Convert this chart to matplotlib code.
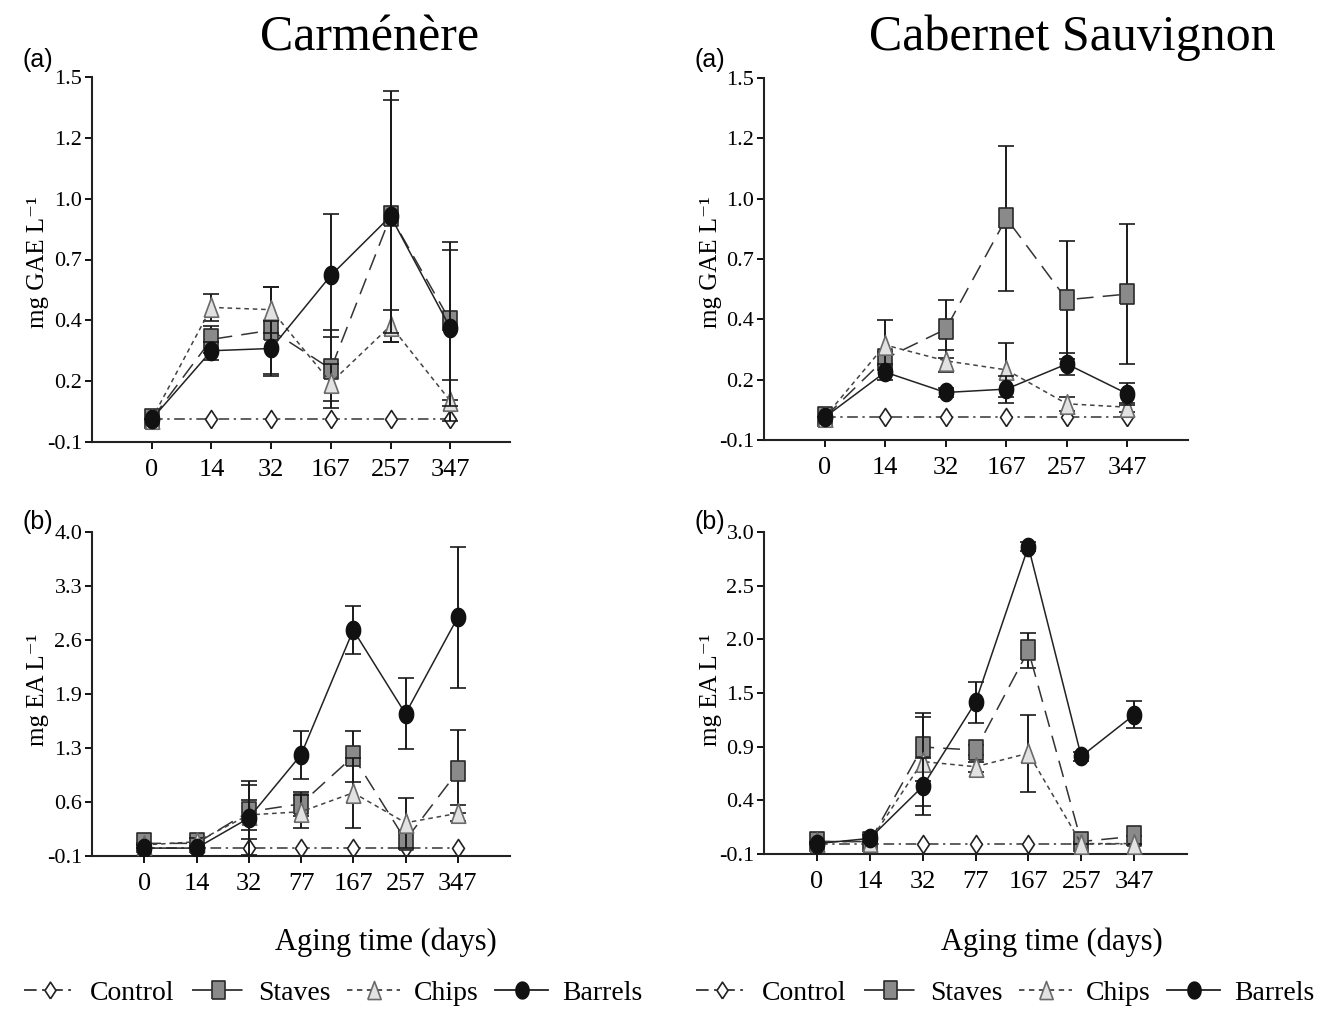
import numpy as np
import matplotlib
matplotlib.use("Agg")
import matplotlib.pyplot as plt
from matplotlib.lines import Line2D

plt.rcParams["font.family"] = ["Liberation Serif", "DejaVu Serif"]
plt.rcParams["mathtext.fontset"] = "stix"

# ---- data -------------------------------------------------------------
days_gae = ["0", "14", "32", "167", "257", "347"]
days_ea = ["0", "14", "32", "77", "167", "257", "347"]

# (a) total phenolics-like index, mg GAE L-1
carm_gae_control = [0.0, 0.0, 0.0, 0.0, 0.0, 0.0]
carm_gae_staves = [0.0, 0.35, 0.39, 0.22, 0.89, 0.43]
carm_gae_staves_err = [0.0, 0.06, 0.19, 0.17, 0.55, 0.345]
carm_gae_chips = [0.0, 0.49, 0.48, 0.16, 0.41, 0.08]
carm_gae_chips_err = [0.0, 0.06, 0.10, 0.08, 0.07, 0.09]
carm_gae_barrels = [0.0, 0.30, 0.31, 0.63, 0.89, 0.40]
carm_gae_barrels_err = [0.0, 0.04, 0.12, 0.27, 0.51, 0.34]

cab_gae_control = [0.0, 0.0, 0.0, 0.0, 0.0, 0.0]
cab_gae_staves = [0.0, 0.26, 0.39, 0.88, 0.52, 0.545]
cab_gae_staves_err = [0.0, 0.03, 0.127, 0.32, 0.26, 0.31]
cab_gae_chips = [0.0, 0.32, 0.25, 0.21, 0.06, 0.045]
cab_gae_chips_err = [0.0, 0.11, 0.05, 0.12, 0.03, 0.02]
cab_gae_barrels = [0.0, 0.20, 0.11, 0.125, 0.236, 0.104]
cab_gae_barrels_err = [0.0, 0.035, 0.02, 0.06, 0.05, 0.05]

# (b) ellagic acid, mg EA L-1
carm_ea_control = [0.0, 0.0, 0.0, 0.0, 0.0, 0.0, 0.0]
carm_ea_staves = [0.06, 0.06, 0.46, 0.56, 1.16, 0.10, 0.97]
carm_ea_staves_err = [0.0, 0.0, 0.34, 0.15, 0.32, 0.10, 0.53]
carm_ea_chips = [0.04, 0.08, 0.42, 0.46, 0.70, 0.32, 0.44]
carm_ea_chips_err = [0.0, 0.05, 0.19, 0.21, 0.44, 0.32, 0.10]
carm_ea_barrels = [0.0, 0.0, 0.38, 1.18, 2.76, 1.70, 2.92]
carm_ea_barrels_err = [0.0, 0.0, 0.47, 0.30, 0.30, 0.45, 0.89]

cab_ea_control = [0.0, 0.0, 0.0, 0.0, 0.0, 0.0, 0.0]
cab_ea_staves = [0.02, 0.02, 0.93, 0.90, 1.86, 0.02, 0.07]
cab_ea_staves_err = [0.0, 0.0, 0.33, 0.05, 0.17, 0.0, 0.0]
cab_ea_chips = [0.02, 0.02, 0.79, 0.74, 0.87, 0.0, 0.0]
cab_ea_chips_err = [0.0, 0.0, 0.43, 0.05, 0.37, 0.0, 0.0]
cab_ea_barrels = [0.0, 0.05, 0.55, 1.36, 2.86, 0.84, 1.24]
cab_ea_barrels_err = [0.0, 0.03, 0.27, 0.20, 0.04, 0.04, 0.13]

yticks_gae = ["-0.1", "0.2", "0.4", "0.7", "1.0", "1.2", "1.5"]
yticks_carm_ea = ["-0.1", "0.6", "1.3", "1.9", "2.6", "3.3", "4.0"]
yticks_cab_ea = ["-0.1", "0.4", "0.9", "1.5", "2.0", "2.5", "3.0"]

series_labels = ["Control", "Staves", "Chips", "Barrels"]

# ---- styles -----------------------------------------------------------
t = np.linspace(0, 2 * np.pi, 40)
m_ellipse = list(zip(0.39 * np.cos(t), 0.5 * np.sin(t)))
m_rect = [(-0.36, -0.5), (0.36, -0.5), (0.36, 0.5), (-0.36, 0.5), (-0.36, -0.5)]
m_diamond = [(0, -0.5), (0.33, 0), (0, 0.5), (-0.33, 0), (0, -0.5)]
m_tri = [(-0.37, -0.5), (0.37, -0.5), (0, 0.5), (-0.37, -0.5)]

styles = {
    "Control": dict(marker=m_diamond, ms=13, mfc="white", mec="#222222",
                    ls=(0, (7, 3, 1.5, 3)), color="#333333", z=2),
    "Staves": dict(marker=m_rect, ms=14, mfc="#8a8a8a", mec="#2a2a2a",
                   ls=(0, (11, 6)), color="#333333", z=3),
    "Chips": dict(marker=m_tri, ms=14, mfc="#e2e2e2", mec="#6a6a6a",
                  ls=(0, (3, 2.5)), color="#444444", z=4),
    "Barrels": dict(marker=m_ellipse, ms=13, mfc="#111111", mec="#111111",
                    ls="-", color="#222222", z=5),
}

fig = plt.figure(figsize=(13.31, 10.11), dpi=100)
W, H = 1331.0, 1011.0


def px_axes(x0, y0, x1, y1):
    return fig.add_axes([x0 / W, 1 - y1 / H, (x1 - x0) / W, (y1 - y0) / H])


def draw_panel(ax, cats, ylim, ylabels, data):
    x = np.arange(len(cats))
    for name in series_labels:
        vals, err = data[name]
        s = styles[name]
        ax.errorbar(x, vals, yerr=err, marker=s["marker"], ms=s["ms"],
                    mfc=s["mfc"], mec=s["mec"], mew=1.2, ls=s["ls"],
                    color=s["color"], lw=1.1, ecolor="#1a1a1a",
                    elinewidth=1.4, capsize=5.5, capthick=1.6,
                    zorder=s["z"])
    ax.set_xlim(-1, len(cats))
    ax.set_ylim(*ylim)
    ax.set_xticks(x)
    ax.set_xticklabels(cats, fontsize=19)
    ax.set_yticks(np.linspace(ylim[0], ylim[1], len(ylabels)))
    ax.set_yticklabels(ylabels, fontsize=16)
    for side in ("top", "right"):
        ax.spines[side].set_visible(False)
    for side in ("left", "bottom"):
        ax.spines[side].set_linewidth(1.5)
        ax.spines[side].set_color("#222222")
    ax.tick_params(axis="y", direction="out", length=5, width=1.3, pad=2)
    ax.tick_params(axis="x", direction="out", length=5, width=1.3, pad=7)
    ax.patch.set_alpha(0)


ax_tl = px_axes(92, 77, 510, 442)
ax_tr = px_axes(764, 78, 1188, 440)
ax_bl = px_axes(92, 532, 510, 856)
ax_br = px_axes(764, 532, 1187, 854)

draw_panel(ax_tl, days_gae, (-0.1, 1.5), yticks_gae, {
    "Control": (carm_gae_control, None),
    "Staves": (carm_gae_staves, carm_gae_staves_err),
    "Chips": (carm_gae_chips, carm_gae_chips_err),
    "Barrels": (carm_gae_barrels, carm_gae_barrels_err),
})
draw_panel(ax_tr, days_gae, (-0.1, 1.5), yticks_gae, {
    "Control": (cab_gae_control, None),
    "Staves": (cab_gae_staves, cab_gae_staves_err),
    "Chips": (cab_gae_chips, cab_gae_chips_err),
    "Barrels": (cab_gae_barrels, cab_gae_barrels_err),
})
draw_panel(ax_bl, days_ea, (-0.1, 4.0), yticks_carm_ea, {
    "Control": (carm_ea_control, None),
    "Staves": (carm_ea_staves, carm_ea_staves_err),
    "Chips": (carm_ea_chips, carm_ea_chips_err),
    "Barrels": (carm_ea_barrels, carm_ea_barrels_err),
})
draw_panel(ax_br, days_ea, (-0.1, 3.0), yticks_cab_ea, {
    "Control": (cab_ea_control, None),
    "Staves": (cab_ea_staves, cab_ea_staves_err),
    "Chips": (cab_ea_chips, cab_ea_chips_err),
    "Barrels": (cab_ea_barrels, cab_ea_barrels_err),
})

# ---- titles, labels, panel letters -----------------------------------
fig.text(370 / W, 1 - 38 / H, "Carménère", fontsize=36, ha="center", va="center")
fig.text(1072 / W, 1 - 38 / H, "Cabernet Sauvignon", fontsize=36,
         ha="center", va="center")

for xp in (22, 695):
    fig.text(xp / W, 1 - 60 / H, "(a)", family="Liberation Sans", fontsize=18,
             ha="left", va="center")
    fig.text(xp / W, 1 - 522 / H, "(b)", family="Liberation Sans", fontsize=18,
             ha="left", va="center")

for xp, yp, lab in ((38, 262, "mg GAE L⁻¹"), (711, 262, "mg GAE L⁻¹"),
                    (38, 690, "mg EA L⁻¹"), (711, 690, "mg EA L⁻¹")):
    fig.text(xp / W, 1 - yp / H, lab, fontsize=18, rotation=90,
             ha="center", va="center")

for xp in (386, 1052):
    fig.text(xp / W, 1 - 942 / H, "Aging time (days)", fontsize=22,
             ha="center", va="center")

# ---- legends ----------------------------------------------------------
def legend_handles():
    hs = []
    for name in series_labels:
        s = styles[name]
        hs.append(Line2D([], [], marker=s["marker"], ms=s["ms"] - 1,
                         mfc=s["mfc"], mec=s["mec"], mew=1.2, ls=s["ls"],
                         color=s["color"], lw=1.3))
    return hs


for xc in (333, 1005):
    fig.legend(legend_handles(), series_labels, loc="center",
               bbox_to_anchor=(xc / W, 1 - 993 / H), ncol=4, frameon=False,
               prop={"family": "Liberation Serif", "size": 20},
               handlelength=1.9, handletextpad=0.5, columnspacing=0.6,
               borderpad=0.0)

fig.savefig("out.png", dpi=100, facecolor="white")
